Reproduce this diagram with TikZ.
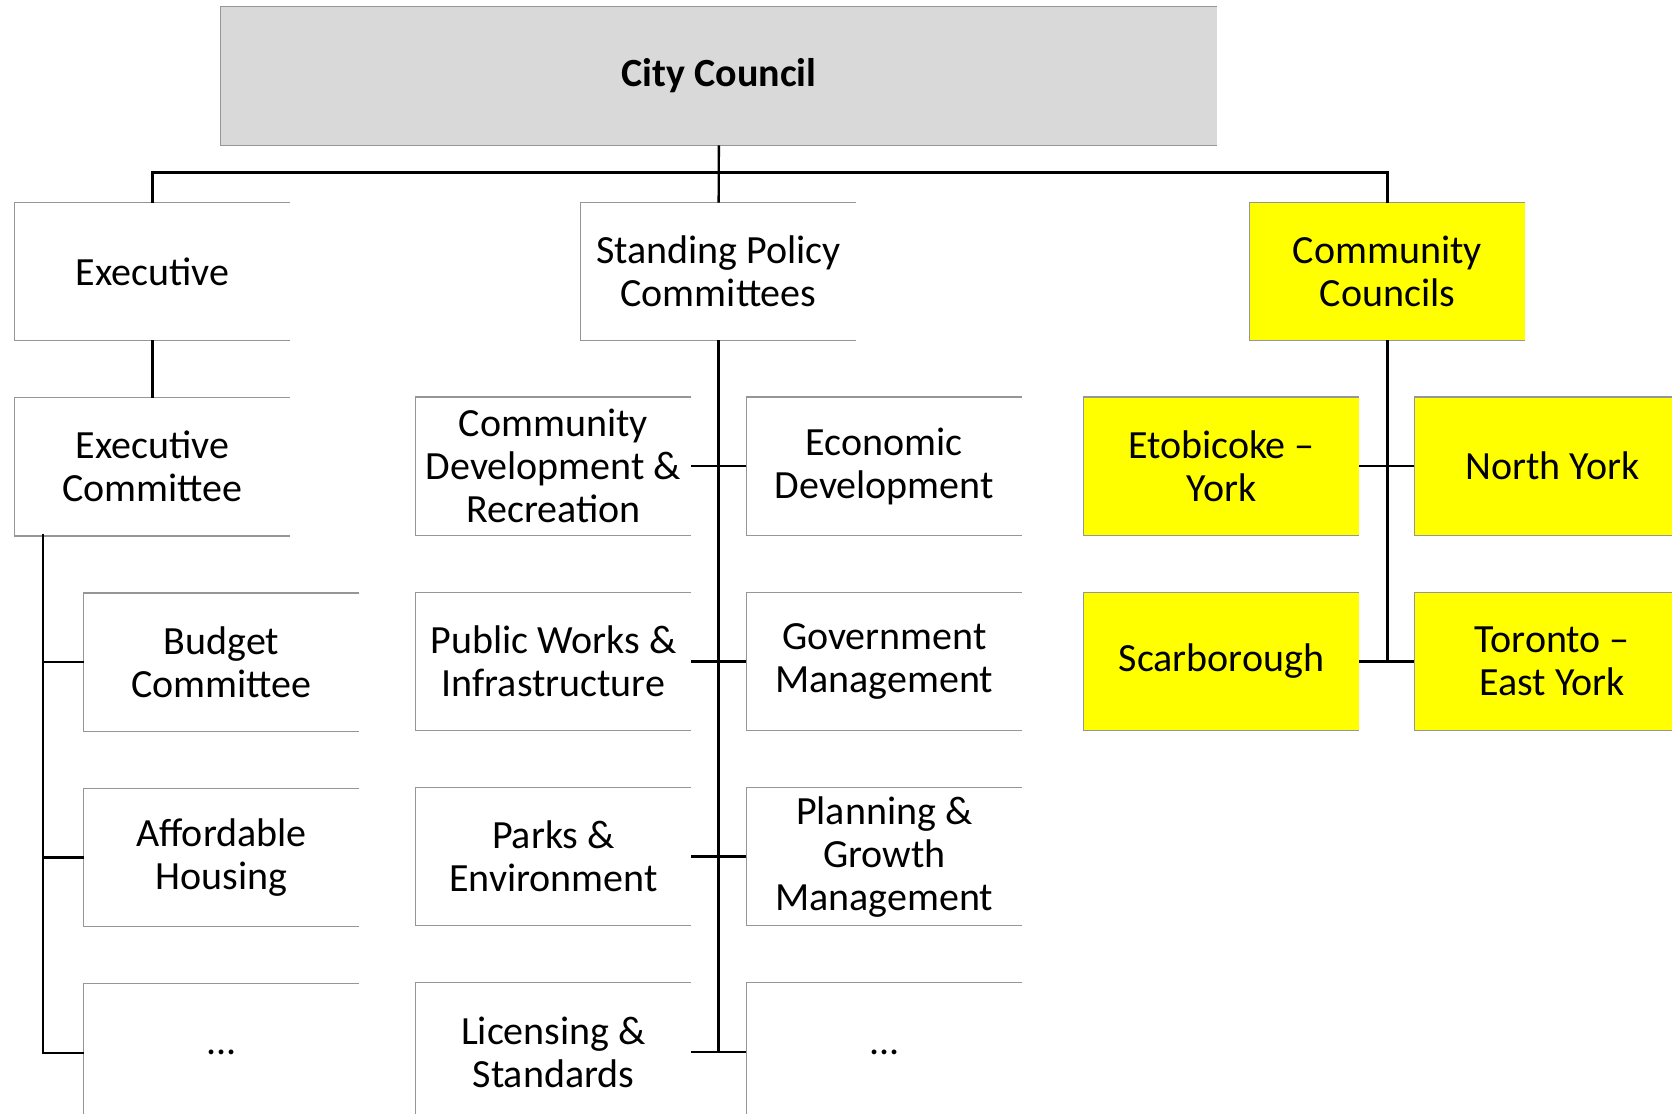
\documentclass[tikz,border=0pt]{standalone}
\usepackage{fontspec}
\setmainfont{Carlito}
\usepackage{tikz}
\usetikzlibrary{positioning}
\usepackage{xcolor}
\definecolor{ccgray}{RGB}{217,217,217}
\definecolor{ccedge}{RGB}{150,150,150}
\definecolor{ccyellow}{RGB}{255,255,0}
\tikzstyle{openright} = [append after command={\pgfextra{\draw[ccedge, line width=0.8pt] (\tikzlastnode.north east) -- (\tikzlastnode.north west) -- (\tikzlastnode.south west) -- (\tikzlastnode.south east);}}]
\tikzstyle{unit} = [rectangle, minimum width=137.5pt, minimum height=68.5pt, inner sep=2pt, text centered, align=center, fill=white, openright, font=\fontsize{20}{21.5}\selectfont]
\tikzstyle{council} = [unit, fill=ccyellow]
\tikzstyle{link} = [line width=1.2pt, black]

\begin{document}
\begin{tikzpicture}[x=0.5pt, y=-0.5pt, node distance=28.75pt and 27.5pt]
\useasboundingbox (0,0) rectangle (1672,1114);
\clip (0,0) rectangle (1672,1114);

\node (city) [unit, fill=ccgray, minimum width=498pt, minimum height=69pt, font=\fontsize{20}{22}\selectfont\bfseries] at (719,76) {City Council};

% top level
\node (exec) [unit] at (152.5,271.5) {Executive};
\node (spc) [unit] at (718.5,271.5) {Standing Policy\\Committees};
\node (cc) [council] at (1387.5,271.5) {Community\\Councils};

% executive
\node (execc) [unit, below=of exec] {Executive\\Committee};
\node (budget) [unit, below=of execc, xshift=34.5pt] {Budget\\Committee};
\node (afford) [unit, below=of budget] {Affordable\\Housing};
\node (moreexec) [unit, below=of afford] {...};

% standing policy committees
\node (cdr) [unit] at (553.5,466) {Community\\Development \&\\Recreation};
\node (econ) [unit, right=of cdr] {Economic\\Development};
\node (pwi) [unit, below=of cdr] {Public Works \&\\Infrastructure};
\node (gov) [unit, below=of econ] {Government\\Management};
\node (parks) [unit, below=of pwi] {Parks \&\\Environment};
\node (plan) [unit, below=of gov] {Planning \&\\Growth\\Management};
\node (lic) [unit, below=of parks] {Licensing \&\\Standards};
\node (morespc) [unit, below=of plan] {...};

% community councils
\node (etob) [council] at (1221.5,466) {Etobicoke –\\York};
\node (ny) [council, right=of etob] {North York};
\node (scar) [council, below=of etob] {Scarborough};
\node (tey) [council, below=of ny] {Toronto –\\East York};

\draw[link] (city) -- (spc);
\draw[link] (exec.north) -- ++(0,-30) -| (cc.north);
\draw[link] (exec) -- (execc);

\coordinate (execbus) at (43,534);
\draw[link] (execbus) |- (moreexec.west);
\foreach \n in {budget,afford}
  \draw[link] (execbus |- \n.west) -- (\n.west);

\draw[link] (spc.south) -- (spc.south |- lic.east);
\draw[link] (cdr) -- (econ);
\draw[link] (pwi) -- (gov);
\draw[link] (parks) -- (plan);
\draw[link] (lic) -- (morespc);

\draw[link] (cc.south) -- (cc.south |- scar.east);
\draw[link] (etob) -- (ny);
\draw[link] (scar) -- (tey);
\end{tikzpicture}
\end{document}
